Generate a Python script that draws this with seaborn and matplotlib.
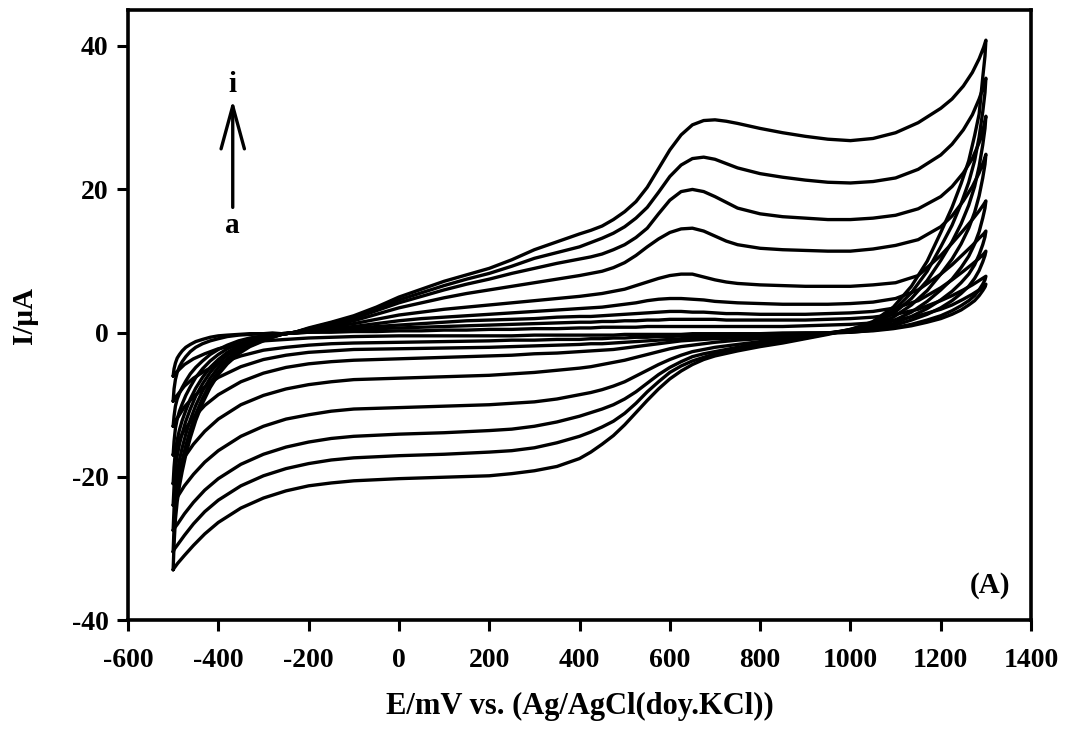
import pandas as pd
import seaborn as sns
import matplotlib.pyplot as plt

# cyclic voltammograms a..i
curves = ['a', 'b', 'c', 'd', 'e', 'f', 'g', 'h', 'i']

# forward scan, just after the -500 mV vertex
E_fwd_left = [-500, -498, -495, -491, -486, -480, -472, -462, -450, -435, -418,
              -400, -380, -355, -330, -300, -280]
I_fwd_left = {
    'a': [-6.0, -5.0, -4.2, -3.5, -3.0, -2.5, -2.0, -1.6, -1.2, -0.9, -0.6, -0.4, -0.3, -0.2, -0.1, -0.1, 0.0],
    'b': [-9.5, -7.8, -6.5, -5.5, -4.7, -4.0, -3.3, -2.6, -2.0, -1.5, -1.1, -0.8, -0.5, -0.3, -0.2, -0.1, -0.1],
    'c': [-13, -11.6, -10.2, -9.2, -8.4, -7.6, -6.7, -5.7, -4.8, -3.9, -3.0, -2.3, -1.7, -1.1, -0.7, -0.4, -0.2],
    'd': [-17, -15.1, -13.3, -12.0, -10.9, -9.9, -8.7, -7.5, -6.2, -5.0, -3.9, -3.0, -2.2, -1.5, -1.0, -0.6, -0.3],
    'e': [-21, -18.7, -16.5, -14.9, -13.5, -12.2, -10.8, -9.2, -7.7, -6.2, -4.8, -3.7, -2.7, -1.8, -1.2, -0.7, -0.4],
    'f': [-24, -21.4, -18.9, -17.1, -15.5, -14.0, -12.3, -10.6, -8.8, -7.1, -5.5, -4.2, -3.1, -2.1, -1.4, -0.8, -0.5],
    'g': [-27.5, -24.5, -21.6, -19.5, -17.7, -16.0, -14.1, -12.1, -10.1, -8.1, -6.3, -4.8, -3.6, -2.4, -1.6, -0.9, -0.5],
    'h': [-30.5, -27.2, -24.0, -21.7, -19.7, -17.8, -15.7, -13.5, -11.3, -9.1, -7.0, -5.4, -4.0, -2.7, -1.8, -1.0, -0.6],
    'i': [-33, -29.5, -26, -23.5, -21.3, -19.3, -17.0, -14.6, -12.2, -9.8, -7.6, -5.8, -4.3, -2.9, -1.9, -1.1, -0.6],
}

# forward scan, anodic part up to the +1300 mV vertex
E_fwd = [-260, -230, -200, -150, -100, -50, 0, 50, 100, 150, 200, 250, 300, 350,
         400, 425, 450, 475, 500, 525, 550, 575, 600, 625, 650, 675, 700, 725,
         750, 800, 850, 900, 950, 1000, 1050, 1100, 1150, 1200, 1225, 1250,
         1270, 1285, 1295, 1300]
I_fwd = {
    'a': [-0.1, 0.0, 0.1, 0.1, 0.2, 0.2, 0.3, 0.3, 0.4, 0.4, 0.5, 0.5, 0.6, 0.6,
          0.7, 0.7, 0.8, 0.8, 0.8, 0.8, 0.9, 0.9, 0.9, 0.9, 0.9, 0.9, 0.9, 0.9,
          0.9, 0.9, 0.9, 1.0, 1.1, 1.2, 1.4, 1.8, 2.4, 3.3, 3.9, 4.7,
          5.4, 6.0, 6.5, 6.8],
    'b': [-0.1, 0.0, 0.1, 0.3, 0.4, 0.6, 0.7, 0.8, 0.9, 1.0, 1.1, 1.2, 1.3, 1.4,
          1.5, 1.5, 1.6, 1.6, 1.7, 1.7, 1.8, 1.8, 1.9, 1.9, 1.9, 1.9, 1.9, 1.8,
          1.8, 1.8, 1.8, 1.8, 1.9, 2.0, 2.2, 2.6, 3.3, 4.5, 5.2, 6.0,
          6.7, 7.3, 7.7, 7.9],
    'c': [-0.1, 0.0, 0.2, 0.4, 0.6, 0.9, 1.1, 1.3, 1.5, 1.7, 1.8, 1.9, 2.0, 2.2,
          2.3, 2.3, 2.4, 2.5, 2.6, 2.7, 2.8, 2.9, 3.0, 3.0, 2.9, 2.9, 2.8, 2.7,
          2.7, 2.6, 2.6, 2.6, 2.7, 2.8, 3.0, 3.5, 4.5, 6.3, 7.4, 8.6,
          9.6, 10.4, 11.0, 11.4],
    'd': [-0.1, 0.0, 0.3, 0.6, 0.9, 1.3, 1.7, 2.0, 2.2, 2.4, 2.6, 2.8, 3.0, 3.2,
          3.4, 3.5, 3.6, 3.8, 4.0, 4.2, 4.5, 4.7, 4.8, 4.8, 4.7, 4.6, 4.4, 4.3,
          4.2, 4.1, 4.0, 4.0, 4.0, 4.1, 4.3, 4.8, 6.0, 8.2, 9.5, 11.0,
          12.2, 13.2, 13.8, 14.2],
    'e': [-0.2, 0.1, 0.4, 0.9, 1.3, 1.9, 2.5, 2.9, 3.3, 3.6, 3.9, 4.2, 4.5, 4.8,
          5.1, 5.3, 5.5, 5.8, 6.1, 6.6, 7.1, 7.6, 8.0, 8.2, 8.2, 7.8, 7.4, 7.1,
          6.9, 6.7, 6.6, 6.5, 6.5, 6.5, 6.7, 7.0, 8.0, 10.8, 12.5, 14.3,
          15.8, 17.0, 17.9, 18.4],
    'f': [-0.2, 0.1, 0.5, 1.1, 1.7, 2.6, 3.5, 4.2, 4.9, 5.5, 6.0, 6.5, 7.0, 7.5,
          8.0, 8.3, 8.6, 9.1, 9.8, 10.8, 12.0, 13.1, 14.0, 14.5, 14.6, 14.2, 13.5, 12.8,
          12.3, 11.8, 11.6, 11.5, 11.4, 11.4, 11.7, 12.2, 13.0, 14.8, 16.3, 18.4,
          20.4, 22.3, 23.9, 24.9],
    'g': [-0.2, 0.1, 0.6, 1.3, 2.0, 3.1, 4.2, 5.1, 6.0, 6.8, 7.5, 8.3, 9.0, 9.7,
          10.3, 10.6, 11.0, 11.6, 12.3, 13.3, 14.6, 16.6, 18.5, 19.7, 20.0, 19.7, 19.0, 18.2,
          17.4, 16.6, 16.2, 16.0, 15.8, 15.8, 16.0, 16.4, 17.3, 19.0, 20.4, 22.3,
          24.3, 26.5, 28.7, 30.2],
    'h': [-0.2, 0.1, 0.6, 1.4, 2.2, 3.4, 4.6, 5.6, 6.6, 7.5, 8.3, 9.3, 10.4, 11.2,
          12.0, 12.6, 13.2, 13.9, 14.8, 16.0, 17.5, 19.6, 21.8, 23.4, 24.3, 24.5, 24.2, 23.6,
          23.0, 22.2, 21.7, 21.3, 21.0, 20.9, 21.1, 21.6, 22.8, 24.8, 26.3, 28.3,
          30.4, 32.6, 34.4, 35.5],
    'i': [-0.2, 0.1, 0.7, 1.5, 2.4, 3.6, 5.0, 6.1, 7.2, 8.1, 9.0, 10.2, 11.6, 12.7,
          13.8, 14.3, 14.9, 15.8, 16.9, 18.3, 20.3, 22.9, 25.5, 27.6, 29.0, 29.6, 29.7, 29.5,
          29.2, 28.5, 27.9, 27.4, 27.0, 26.8, 27.1, 27.9, 29.3, 31.3, 32.6, 34.4,
          36.3, 38.2, 39.8, 40.8],
}

# reverse scan, steep drop after the +1300 mV vertex
E_rev_right = [1298, 1293, 1285, 1275, 1262, 1245, 1225, 1200, 1170, 1135, 1095, 1050, 1020]
I_rev_right = {
    'a': [6.4, 5.9, 5.2, 4.5, 3.9, 3.2, 2.6, 2.0, 1.5, 1.0, 0.6, 0.3, 0.2],
    'b': [7.4, 6.8, 6.0, 5.2, 4.5, 3.8, 3.1, 2.4, 1.8, 1.2, 0.7, 0.4, 0.2],
    'c': [10.8, 9.9, 8.7, 7.6, 6.5, 5.5, 4.5, 3.5, 2.6, 1.8, 1.0, 0.5, 0.3],
    'd': [13.4, 12.3, 10.9, 9.5, 8.2, 7.0, 5.8, 4.6, 3.4, 2.3, 1.3, 0.6, 0.4],
    'e': [17.4, 16.0, 14.1, 12.4, 10.7, 9.1, 7.5, 6.0, 4.4, 2.9, 1.7, 0.8, 0.5],
    'f': [23.5, 21.6, 19.1, 16.8, 14.6, 12.4, 10.3, 8.2, 5.9, 3.9, 2.2, 1.0, 0.6],
    'g': [28.5, 26.2, 23.2, 20.4, 17.8, 15.2, 12.7, 10.1, 7.3, 4.8, 2.7, 1.2, 0.7],
    'h': [33.5, 30.8, 27.3, 24.0, 21.0, 18.0, 15.0, 12.0, 8.6, 5.6, 3.1, 1.4, 0.8],
    'i': [38.6, 35.6, 30.5, 27.5, 24.0, 20.8, 17.5, 14.0, 10.0, 6.5, 3.6, 1.6, 0.9],
}

# reverse scan, cathodic part back to the -500 mV vertex
E_rev = [1000, 950, 900, 850, 800, 750, 700, 675, 650, 625, 600, 575, 550, 525,
         500, 475, 450, 425, 400, 350, 300, 250, 200, 100, 0, -100, -150, -200,
         -250, -300, -350, -400, -430, -455, -475, -490, -497, -500]
I_rev = {
    'a': [0.1, 0.0, 0.0, 0.0, -0.1, -0.1, -0.1, -0.1, -0.1, -0.2, -0.2, -0.2, -0.2, -0.2,
          -0.2, -0.3, -0.3, -0.3, -0.3, -0.3, -0.3, -0.4, -0.4, -0.4, -0.4, -0.5, -0.6, -0.7,
          -0.9, -1.1, -1.5, -2.2, -2.9, -3.6, -4.4, -5.3, -5.8, -6.0],
    'b': [0.1, 0.0, 0.0, -0.1, -0.2, -0.2, -0.3, -0.3, -0.4, -0.4, -0.5, -0.5, -0.6, -0.6,
          -0.7, -0.7, -0.8, -0.8, -0.9, -0.9, -1.0, -1.0, -1.1, -1.2, -1.3, -1.4, -1.5, -1.7,
          -2.0, -2.4, -3.2, -4.3, -5.3, -6.3, -7.4, -8.6, -9.2, -9.5],
    'c': [0.2, 0.0, -0.1, -0.2, -0.3, -0.4, -0.5, -0.6, -0.7, -0.8, -0.9, -1.0, -1.1, -1.2,
          -1.3, -1.4, -1.5, -1.5, -1.6, -1.7, -1.8, -1.9, -2.0, -2.1, -2.2, -2.3, -2.5, -2.7,
          -3.1, -3.7, -4.7, -6.2, -7.5, -8.9, -10.3, -11.8, -12.6, -13.0],
    'd': [0.2, 0.0, -0.2, -0.4, -0.5, -0.7, -0.8, -0.9, -1.0, -1.1, -1.3, -1.5, -1.7, -1.9,
          -2.1, -2.3, -2.4, -2.5, -2.6, -2.8, -2.9, -3.1, -3.2, -3.4, -3.6, -3.8, -4.0, -4.3,
          -4.8, -5.6, -6.8, -8.6, -10.1, -11.8, -13.5, -15.3, -16.4, -17.0],
    'e': [0.3, 0.0, -0.3, -0.6, -0.8, -1.0, -1.3, -1.5, -1.7, -1.9, -2.2, -2.6, -3.0, -3.4,
          -3.8, -4.1, -4.4, -4.7, -4.9, -5.2, -5.5, -5.7, -5.9, -6.1, -6.3, -6.5, -6.8, -7.2,
          -7.8, -8.7, -10.0, -12.0, -13.7, -15.5, -17.3, -19.3, -20.4, -21.0],
    'f': [0.4, 0.0, -0.5, -0.8, -1.2, -1.6, -2.0, -2.3, -2.6, -3.1, -3.7, -4.4, -5.2, -6.0,
          -6.8, -7.4, -7.9, -8.3, -8.6, -9.2, -9.6, -9.8, -10.0, -10.2, -10.4, -10.6, -10.9, -11.4,
          -12.0, -13.0, -14.4, -16.4, -18.0, -19.7, -21.3, -22.8, -23.6, -24.0],
    'g': [0.4, -0.1, -0.6, -1.0, -1.5, -2.0, -2.6, -2.9, -3.3, -4.0, -4.8, -5.8, -7.0, -8.2,
          -9.2, -10.0, -10.6, -11.1, -11.6, -12.4, -13.0, -13.4, -13.6, -13.9, -14.1, -14.4, -14.7, -15.2,
          -15.9, -16.9, -18.3, -20.3, -21.9, -23.6, -25.2, -26.6, -27.2, -27.5],
    'h': [0.5, -0.1, -0.7, -1.2, -1.7, -2.3, -2.9, -3.4, -3.9, -4.6, -5.5, -6.8, -8.2, -9.8,
          -11.2, -12.3, -13.1, -13.8, -14.4, -15.3, -16.0, -16.4, -16.6, -16.9, -17.1, -17.4, -17.7, -18.2,
          -18.9, -19.9, -21.3, -23.3, -24.9, -26.6, -28.2, -29.5, -30.1, -30.5],
    'i': [0.5, -0.2, -0.8, -1.4, -1.9, -2.5, -3.2, -3.7, -4.4, -5.3, -6.4, -7.8, -9.4, -11.1,
          -12.8, -14.3, -15.5, -16.6, -17.5, -18.6, -19.2, -19.6, -19.9, -20.1, -20.3, -20.6, -20.9, -21.3,
          -22.0, -23.0, -24.4, -26.4, -28.0, -29.6, -31.0, -32.1, -32.7, -33.0],
}

# one long table, scan order kept per loop
rows = []
for c in curves:
    E_loop = E_fwd_left + E_fwd + E_rev_right + E_rev
    I_loop = I_fwd_left[c] + I_fwd[c] + I_rev_right[c] + I_rev[c]
    assert len(E_loop) == len(I_loop), c
    for k, (e, i) in enumerate(zip(E_loop, I_loop)):
        rows.append({'curve': c, 'step': k, 'E': e, 'I': i})
df = pd.DataFrame(rows)

sns.set_style('ticks')
plt.rcParams['font.family'] = ['Liberation Serif', 'DejaVu Serif']
plt.rcParams['font.weight'] = 'bold'
plt.rcParams['axes.unicode_minus'] = False
for key in ['text.color', 'axes.labelcolor', 'xtick.color', 'ytick.color', 'axes.edgecolor']:
    plt.rcParams[key] = 'black'

fig = plt.figure(figsize=(10.71, 7.31), dpi=100)
ax = fig.add_axes([0.1195, 0.1518, 0.8432, 0.8345])

sns.lineplot(data=df, x='E', y='I', units='curve', estimator=None, sort=False,
             color='black', linewidth=2.4, ax=ax)

ax.set_xlim(-600, 1400)
ax.set_ylim(-40, 45)
ax.set_xticks(range(-600, 1401, 200))
ax.set_yticks([-40, -20, 0, 20, 40])
ax.tick_params(direction='out', length=8, width=2.2, labelsize=20)
ax.tick_params(axis='x', pad=12)
ax.tick_params(axis='y', pad=6)
for lab in ax.get_xticklabels() + ax.get_yticklabels():
    lab.set_fontweight('bold')
for sp in ax.spines.values():
    sp.set_linewidth(2.6)
    sp.set_visible(True)

ax.set_xlabel('E/mV vs. (Ag/AgCl(doy.KCl))', fontsize=22, fontweight='bold', labelpad=14)
ax.set_ylabel('I/\u03bcA', fontsize=21, fontweight='bold', labelpad=24)

# arrow showing the order a -> i
ax.annotate('', xy=(-368, 32.5), xytext=(-368, 17.5),
            arrowprops=dict(arrowstyle='->, head_length=1.1, head_width=0.3',
                            lw=2.4, color='black', mutation_scale=28,
                            shrinkA=0, shrinkB=0))
ax.text(-368, 32.8, 'i', ha='center', va='bottom', fontsize=21, fontweight='bold')
ax.text(-368, 16.8, 'a', ha='center', va='top', fontsize=21, fontweight='bold')
ax.text(0.955, 0.057, '(A)', transform=ax.transAxes, ha='center', va='center',
        fontsize=21, fontweight='bold')

plt.savefig('out.png', dpi=100)
